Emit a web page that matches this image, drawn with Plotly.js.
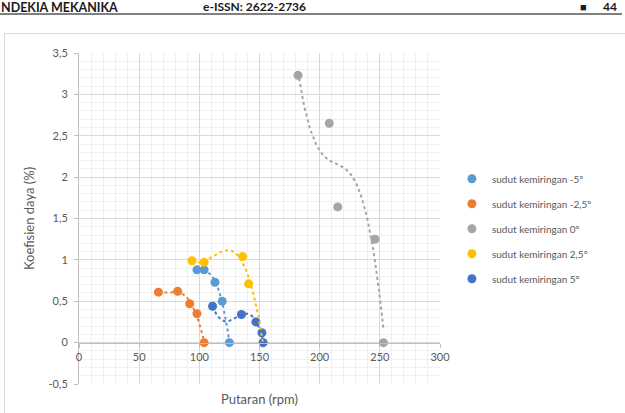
<!DOCTYPE html>
<html>
<head>
<meta charset="utf-8">
<script src="https://cdn.plot.ly/plotly-3.0.1.min.js"></script>
<style>
  html, body { margin: 0; padding: 0; background: #ffffff; }
  #wrap { position: relative; width: 625px; height: 413px; overflow: hidden; background: #ffffff; }
  #frame { position: absolute; left: 4px; top: 33px; width: 700px; height: 500px; border: 1px solid #d9d9d9; box-sizing: border-box; }
  #chart { position: absolute; left: 0; top: 0; width: 625px; height: 413px; }
  .hdr { position: absolute; font-family: Lato, "Open Sans", sans-serif; font-weight: 700; color: #1a1a1a; white-space: nowrap; line-height: 1.2; }
  #rule { position: absolute; left: 0; top: 13px; width: 622px; height: 2px; background: #808080; }
</style>
</head>
<body>
<div id="wrap">
  <div id="frame"></div>
  <div id="rule"></div>
  <div class="hdr" style="left:1px; top:0px; font-size:12.5px;">NDEKIA MEKANIKA</div>
  <div class="hdr" style="left:203px; top:0px; font-size:12px;">e-ISSN: 2622-2736</div>
  <div class="hdr" style="left:580px; top:0px; font-size:11px;">■</div>
  <div class="hdr" style="left:603px; top:0px; font-size:12px;">44</div>
  <div id="chart"></div>
</div>
<script>
// ---- data ----
const seriesNames = ["sudut kemiringan -5º", "sudut kemiringan -2,5º", "sudut kemiringan 0º", "sudut kemiringan 2,5º", "sudut kemiringan 5º"];
const rpmMin5  = [98, 104, 113, 119, 125];
const cpMin5   = [0.88, 0.88, 0.73, 0.50, 0];
const rpmMin25 = [66, 82, 92, 98, 104];
const cpMin25  = [0.61, 0.62, 0.47, 0.35, 0];
const rpm0     = [182, 208, 215, 246, 253];
const cp0      = [3.23, 2.65, 1.64, 1.25, 0];
const rpm25    = [94, 104, 136, 141, 153];
const cp25     = [0.99, 0.97, 1.04, 0.71, 0];
const rpm5     = [111, 135, 147, 152, 153];
const cp5      = [0.44, 0.34, 0.25, 0.12, 0];
const seriesColors = ["#5B9BD5", "#ED7D31", "#A5A5A5", "#FFC000", "#4472C4"];
const yTickVals = [-0.5, 0, 0.5, 1, 1.5, 2, 2.5, 3, 3.5];
const yTickText = ["-0,5", "0", "0,5", "1", "1,5", "2", "2,5", "3", "3,5"];
const trendOrder = 3;

// ---- polynomial trendline (least squares), like the spreadsheet trendlines ----
function polyfit(xs, ys, order) {
  const n = xs.length;
  const mn = Math.min(...xs), mx = Math.max(...xs);
  const c = (mn + mx) / 2, s = (mx - mn) / 2 || 1;
  const u = xs.map(x => (x - c) / s);
  const m = order + 1;
  const A = [], b = [];
  for (let i = 0; i < m; i++) {
    A.push([]);
    for (let j = 0; j < m; j++) {
      let sum = 0;
      for (let k = 0; k < n; k++) sum += Math.pow(u[k], i + j);
      A[i].push(sum);
    }
    let sb = 0;
    for (let k = 0; k < n; k++) sb += ys[k] * Math.pow(u[k], i);
    b.push(sb);
  }
  for (let col = 0; col < m; col++) {
    let piv = col;
    for (let r = col + 1; r < m; r++) if (Math.abs(A[r][col]) > Math.abs(A[piv][col])) piv = r;
    [A[col], A[piv]] = [A[piv], A[col]];
    [b[col], b[piv]] = [b[piv], b[col]];
    for (let r = 0; r < m; r++) {
      if (r === col) continue;
      const f = A[r][col] / A[col][col];
      for (let k = col; k < m; k++) A[r][k] -= f * A[col][k];
      b[r] -= f * b[col];
    }
  }
  const coef = b.map((v, i) => v / A[i][i]);
  return x => {
    const t = (x - c) / s;
    let y = 0;
    for (let i = 0; i < m; i++) y += coef[i] * Math.pow(t, i);
    return y;
  };
}

const xsAll = [rpmMin5, rpmMin25, rpm0, rpm25, rpm5];
const ysAll = [cpMin5, cpMin25, cp0, cp25, cp5];

const markerTraces = [], lineTraces = [];
for (let i = 0; i < xsAll.length; i++) {
  const xs = xsAll[i], ys = ysAll[i];
  markerTraces.push({
    type: "scatter", mode: "markers", x: xs, y: ys, name: seriesNames[i],
    legendgroup: "g" + i,
    marker: { color: seriesColors[i], size: 9, line: { width: 0 } },
    hoverinfo: "x+y+name"
  });
  const f = polyfit(xs, ys, trendOrder);
  const lo = Math.min(...xs), hi = Math.max(...xs);
  const tx = [], ty = [];
  const N = 80;
  for (let k = 0; k <= N; k++) {
    const x = lo + (hi - lo) * k / N;
    tx.push(x); ty.push(f(x));
  }
  lineTraces.push({
    type: "scatter", mode: "lines", x: tx, y: ty, showlegend: false,
    legendgroup: "g" + i, hoverinfo: "skip",
    line: { color: seriesColors[i], width: 2, dash: "dot" }
  });
}

const layout = {
  width: 625, height: 413,
  margin: { l: 79, r: 185, t: 53, b: 29, pad: 0 },
  paper_bgcolor: "rgba(0,0,0,0)",
  plot_bgcolor: "rgba(0,0,0,0)",
  font: { family: "Lato, 'Open Sans', sans-serif", color: "#595959", size: 11 },
  showlegend: true,
  xaxis: {
    range: [0, 300], tickmode: "linear", tick0: 0, dtick: 50,
    anchor: "free", position: 0.125,
    showgrid: true, gridcolor: "#d9d9d9", gridwidth: 1,
    minor: { tick0: 0, dtick: 10, showgrid: true, gridcolor: "#f0f0f0", gridwidth: 1, ticks: "" },
    showline: true, linecolor: "#bfbfbf", linewidth: 1,
    ticks: "outside", ticklen: 4, tickcolor: "#bfbfbf",
    zeroline: false,
    tickfont: { size: 11, color: "#595959" },
    title: { text: "Putaran (rpm)", font: { size: 13, color: "#595959" }, standoff: 33 }
  },
  yaxis: {
    range: [-0.5, 3.5], tickmode: "array", tickvals: yTickVals, ticktext: yTickText,
    showgrid: true, gridcolor: "#d9d9d9", gridwidth: 1,
    minor: { tick0: 0, dtick: 0.1, showgrid: true, gridcolor: "#f0f0f0", gridwidth: 1, ticks: "" },
    showline: true, linecolor: "#bfbfbf", linewidth: 1,
    ticks: "outside", ticklen: 4, tickcolor: "#bfbfbf",
    ticklabelstandoff: 4,
    zeroline: false,
    tickfont: { size: 11, color: "#595959" },
    title: { text: "Koefisien daya (%)", font: { size: 13, color: "#595959" }, standoff: 10 }
  },
  legend: {
    x: 1.033, xanchor: "left", y: 0.664, yanchor: "top",
    font: { size: 10, color: "#595959" },
    bgcolor: "rgba(0,0,0,0)", traceorder: "grouped", tracegroupgap: 6
  }
};

Plotly.newPlot("chart", markerTraces.concat(lineTraces), layout, { displayModeBar: false, staticPlot: true });
</script>
</body>
</html>
